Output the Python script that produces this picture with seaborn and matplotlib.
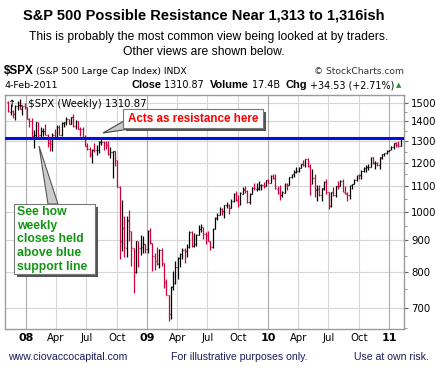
import numpy as np
import pandas as pd
import matplotlib
matplotlib.use("Agg")
import matplotlib.pyplot as plt
import matplotlib.dates as mdates
from matplotlib.patches import Rectangle, Polygon
from matplotlib.ticker import FixedLocator, NullFormatter, FuncFormatter
import seaborn as sns

# Weekly $SPX bars, Nov-2007 .. 4-Feb-2011
first_week = "2007-11-09"
opens = [1508, 1453, 1458, 1440, 1481, 1505, 1468, 1484,
         1475, 1411, 1401, 1325, 1330, 1395, 1331, 1350, 1353, 1330, 1293, 1288, 1330,
         1315, 1370, 1332, 1390, 1397, 1413, 1388, 1425, 1375, 1400, 1360, 1360, 1318,
         1278, 1262, 1239, 1260, 1257, 1260, 1296, 1298, 1292, 1282, 1242, 1251, 1255,
         1213, 1099, 899, 940, 876, 968, 931, 873, 800, 896, 876, 879, 887,
         872, 931, 890, 850, 832, 825, 868, 826, 770, 735, 683, 756, 768,
         815, 842, 856, 869, 866, 877, 929, 882, 887, 919, 940, 946, 921,
         918, 896, 879, 940, 979, 987, 1010, 1004, 1026, 1028, 1016, 1042, 1068,
         1044, 1025, 1071, 1087, 1079, 1036, 1069, 1093, 1091, 1091, 1106, 1106, 1102,
         1126, 1115, 1145, 1136, 1091, 1073, 1066, 1075, 1109, 1104, 1138, 1150, 1159,
         1166, 1178, 1194, 1192, 1217, 1186, 1110, 1135, 1087, 1089, 1064, 1091, 1117,
         1076, 1022, 1078, 1064, 1102, 1101, 1121, 1079, 1071, 1064, 1104, 1109, 1125,
         1148, 1146, 1165, 1176, 1183, 1183, 1225, 1199, 1199, 1189, 1224, 1240, 1243,
         1256, 1257, 1271, 1293, 1283, 1276]
highs = [1510, 1492, 1462, 1488, 1510, 1523, 1485, 1499,
         1475, 1416, 1420, 1355, 1396, 1396, 1370, 1367, 1389, 1336, 1321, 1341, 1359,
         1381, 1380, 1395, 1398, 1422, 1415, 1426, 1440, 1406, 1405, 1371, 1371, 1330,
         1292, 1274, 1263, 1291, 1285, 1302, 1314, 1301, 1304, 1303, 1274, 1256, 1256,
         1215, 1101, 1044, 985, 984, 1007, 932, 873, 896, 896, 918, 914, 887,
         934, 943, 891, 858, 877, 870, 876, 827, 780, 735, 758, 804, 832,
         845, 857, 875, 876, 888, 930, 930, 925, 920, 951, 956, 946, 928,
         931, 898, 943, 980, 996, 1018, 1013, 1027, 1039, 1031, 1048, 1074, 1080,
         1066, 1076, 1096, 1101, 1085, 1072, 1097, 1113, 1112, 1120, 1108, 1117, 1127,
         1130, 1146, 1150, 1150, 1103, 1104, 1081, 1112, 1112, 1139, 1151, 1170, 1180,
         1181, 1195, 1214, 1217, 1220, 1197, 1174, 1150, 1104, 1105, 1092, 1120, 1131,
         1078, 1078, 1099, 1103, 1120, 1128, 1130, 1100, 1077, 1105, 1111, 1131, 1149,
         1150, 1168, 1184, 1189, 1196, 1227, 1226, 1207, 1205, 1225, 1241, 1247, 1258,
         1260, 1278, 1294, 1297, 1302, 1311]
lows = [1453, 1435, 1416, 1406, 1460, 1467, 1435, 1468,
        1411, 1370, 1312, 1270, 1322, 1316, 1320, 1324, 1330, 1272, 1256, 1256, 1312,
        1311, 1331, 1324, 1370, 1380, 1386, 1385, 1373, 1362, 1359, 1328, 1317, 1278,
        1260, 1225, 1200, 1250, 1235, 1247, 1282, 1261, 1263, 1236, 1220, 1133, 1187,
        1097, 839, 866, 845, 845, 899, 818, 741, 796, 815, 851, 857, 857,
        857, 888, 804, 805, 821, 812, 818, 754, 734, 667, 672, 748, 764,
        779, 814, 839, 826, 847, 875, 878, 879, 881, 918, 929, 903, 888,
        896, 869, 875, 940, 971, 987, 990, 978, 1016, 991, 1016, 1039, 1041,
        1019, 1025, 1069, 1074, 1033, 1030, 1069, 1086, 1080, 1085, 1085, 1094, 1100,
        1114, 1115, 1131, 1090, 1071, 1044, 1056, 1075, 1086, 1104, 1135, 1140, 1156,
        1160, 1176, 1186, 1181, 1184, 1065, 1110, 1056, 1041, 1060, 1042, 1087, 1071,
        1010, 1018, 1063, 1056, 1088, 1101, 1076, 1069, 1040, 1048, 1091, 1108, 1122,
        1131, 1131, 1159, 1159, 1171, 1180, 1194, 1173, 1185, 1174, 1218, 1232, 1241,
        1253, 1257, 1262, 1271, 1275, 1276]
closes = [1453.70, 1458.74, 1440.70, 1481.14, 1504.66, 1467.95, 1484.46, 1478.49,
          1411.63, 1401.02, 1325.19, 1330.61, 1395.42, 1331.29, 1349.99, 1353.11, 1330.63,
          1293.37, 1288.14, 1329.51, 1315.22, 1370.40, 1332.83, 1390.33, 1397.84, 1413.90,
          1388.28, 1425.35, 1375.93, 1400.38, 1360.68, 1360.03, 1317.93, 1278.38, 1262.90,
          1239.49, 1260.68, 1257.76, 1260.31, 1296.32, 1298.20, 1292.20, 1282.83, 1242.31,
          1251.70, 1255.08, 1213.27, 1099.23, 899.22, 940.55, 876.77, 968.75, 930.99,
          873.29, 800.03, 896.24, 876.07, 879.73, 887.88, 872.80,
          931.80, 890.35, 850.12, 831.95, 825.88, 868.60, 826.84, 770.05, 735.09, 683.38,
          756.55, 768.54, 815.94, 842.50, 856.56, 869.60, 866.23, 877.52, 929.23, 882.88,
          887.00, 919.14, 940.09, 946.21, 921.23, 918.90, 896.42, 879.13, 940.38, 979.26,
          987.48, 1010.48, 1004.09, 1026.13, 1028.93, 1016.40, 1042.73, 1068.30, 1044.38,
          1025.21, 1071.49, 1087.68, 1079.60, 1036.19, 1069.30, 1093.48, 1091.38, 1091.49,
          1105.98, 1106.41, 1102.47, 1126.48, 1115.10,
          1144.98, 1136.03, 1091.76, 1073.87, 1066.19, 1075.51, 1109.17, 1104.49, 1138.70,
          1149.99, 1159.90, 1166.59, 1178.10, 1194.37, 1192.13, 1217.28, 1186.69, 1110.88,
          1135.68, 1087.69, 1089.41, 1064.88, 1091.60, 1117.51, 1076.76, 1022.58, 1077.96,
          1064.88, 1102.66, 1101.60, 1121.64, 1079.25, 1071.69, 1064.59, 1104.51, 1109.55,
          1125.59, 1148.67, 1146.24, 1165.15, 1176.19, 1183.08, 1183.26, 1225.85, 1199.21,
          1199.73, 1189.40, 1224.71, 1240.40, 1243.91, 1256.77, 1257.64,
          1271.50, 1293.24, 1283.35, 1276.34, 1310.87]
resistance = 1315
y_ticks = [700, 800, 900, 1000, 1100, 1200, 1300, 1400, 1500]

W, H = 436, 377
UP, DOWN = "black", "#d0003c"


def fx(x):
    return x / W


def fy(y):
    return 1 - y / H


def date_label(v, pos):
    d = mdates.num2date(v)
    return d.strftime("%y") if d.month == 1 else d.strftime("%b")


def main():
    sns.set_theme(style="white")
    plt.rcParams["font.family"] = ["DejaVu Sans"]
    plt.rcParams["text.color"] = "black"
    plt.rcParams["xtick.color"] = "black"
    plt.rcParams["ytick.color"] = "black"

    df = pd.DataFrame({"date": pd.date_range(first_week, periods=len(closes), freq="W-FRI"),
                       "open": opens, "high": highs, "low": lows, "close": closes})
    prev = df["close"].shift(1).fillna(df["open"])
    df["color"] = np.where(df["close"] < prev, DOWN, UP)

    fig = plt.figure(figsize=(W / 100, H / 100), dpi=100)
    ax = fig.add_axes([fx(5), fy(329), (404 - 5) / W, (329 - 95) / H])

    ax.set_yscale("log")
    ax.set_ylim(647, 1545)
    ax.set_xlim(pd.Timestamp("2007-10-30"), pd.Timestamp("2011-02-14"))

    # grid
    for v in y_ticks:
        ax.axhline(v, color="#d6d6d6", lw=0.8, zorder=0)
    for d in pd.date_range("2008-01-01", "2011-01-01", freq="QS"):
        ax.axvline(d, color="#aaaaaa" if d.month == 1 else "#d6d6d6", lw=0.8, zorder=0)

    # OHLC bars
    half = pd.Timedelta(days=2.5)
    ax.vlines(df["date"], df["low"], df["high"], colors=df["color"], lw=0.9, zorder=2)
    ax.hlines(df["open"], df["date"] - half, df["date"], colors=df["color"], lw=0.9, zorder=2)
    ax.hlines(df["close"], df["date"], df["date"] + half, colors=df["color"], lw=0.9, zorder=2)

    ax.axhline(resistance, color="#0010e0", lw=2.2, zorder=3)

    # axes styling
    for s in ax.spines.values():
        s.set_color("#9a9a9a")
        s.set_linewidth(1)
    ax.yaxis.tick_right()
    ax.yaxis.set_major_locator(FixedLocator(y_ticks))
    ax.yaxis.set_major_formatter(matplotlib.ticker.FixedFormatter([str(v) for v in y_ticks]))
    ax.yaxis.set_minor_locator(FixedLocator([650, 750, 850, 950, 1050, 1150, 1250, 1350, 1450]))
    ax.yaxis.set_minor_formatter(NullFormatter())
    ax.tick_params(axis="y", which="major", length=3, width=0.8, color="#666666",
                   labelsize=7.3, pad=2, right=True, left=False)
    ax.tick_params(axis="y", which="minor", length=2, width=0.6, color="#888888",
                   right=True, left=False)

    ax.xaxis.set_major_locator(mdates.MonthLocator(bymonth=[1, 4, 7, 10]))
    ax.xaxis.set_major_formatter(FuncFormatter(date_label))
    ax.tick_params(axis="x", length=0, labelsize=7.3, pad=3)
    fig.canvas.draw()
    for lab in ax.get_xticklabels():
        if lab.get_text().isdigit():
            lab.set_fontweight("bold")
            lab.set_fontsize(8)

    ax.text(0.008, 0.985, "\u2191\u2193 $SPX (Weekly) 1310.87", transform=ax.transAxes,
            fontsize=7.3, va="top", ha="left", zorder=5)

    # header
    fig.text(fx(204), fy(15), "S&P 500 Possible Resistance Near 1,313 to 1,316ish",
             ha="center", va="center", fontsize=10.5, fontweight="bold",
             family="Liberation Sans")
    fig.text(fx(209), fy(37), "This is probably the most common view being looked at by traders.",
             ha="center", va="center", fontsize=8.7, family="Liberation Sans")
    fig.text(fx(204), fy(52), "Other views are shown below.",
             ha="center", va="center", fontsize=8.7, family="Liberation Sans")
    fig.text(fx(4), fy(71), "$SPX", ha="left", va="center", fontsize=8.4,
             fontweight="bold", family="Liberation Sans")
    fig.text(fx(36), fy(71), "(S&P 500 Large Cap Index) INDX", ha="left", va="center",
             fontsize=6.7)
    fig.text(fx(404), fy(71), "\u00a9 StockCharts.com", ha="right", va="center",
             fontsize=6.6, color="#333333")
    fig.text(fx(4), fy(85), "4-Feb-2011", ha="left", va="center", fontsize=6.8)
    parts = [("Close", True), (" 1310.87  ", False), ("Volume", True), (" 17.4B  ", False),
             ("Chg", True), (" +34.53 (+2.71%)", False)]
    x0 = fx(131)
    renderer = fig.canvas.get_renderer()
    for txt, bold in parts:
        tt = fig.text(x0, fy(85), txt, ha="left", va="center",
                      fontsize=7.9 if bold else 6.9,
                      fontweight="bold" if bold else "normal",
                      family="Liberation Sans" if bold else "DejaVu Sans")
        bb = tt.get_window_extent(renderer)
        x0 += bb.width / W
    fig.text(x0 + 0.003, fy(85), "\u25b2", ha="left", va="center", fontsize=5, color="#2e8b2e")

    # callout: resistance
    fig.add_artist(Polygon([(fx(124), fy(121)), (fx(136), fy(128)), (fx(103), fy(133))],
                           closed=True, transform=fig.transFigure, fc="#c8c8c8",
                           ec="#444444", lw=0.8, zorder=6))
    fig.add_artist(Rectangle((fx(126), fy(131)), 140 / W, 19 / H, transform=fig.transFigure,
                             fc="#555555", ec="none", zorder=6))
    fig.add_artist(Rectangle((fx(123), fy(128)), 140 / W, 19 / H, transform=fig.transFigure,
                             fc="white", ec="#777777", lw=0.8, zorder=7))
    fig.text(fx(193), fy(118.5), "Acts as resistance here", ha="center", va="center",
             fontsize=8.4, fontweight="bold", color="#ff0000", family="Liberation Sans",
             zorder=8)

    # callout: support
    fig.add_artist(Polygon([(fx(48), fy(204)), (fx(58), fy(204)), (fx(39), fy(146))],
                           closed=True, transform=fig.transFigure, fc="#cccccc",
                           ec="#555555", lw=0.8, zorder=6))
    fig.add_artist(Rectangle((fx(17), fy(277)), 81 / W, 70 / H, transform=fig.transFigure,
                             fc="#555555", ec="none", zorder=6))
    fig.add_artist(Rectangle((fx(14), fy(274)), 81 / W, 70 / H, transform=fig.transFigure,
                             fc="white", ec="#777777", lw=0.8, zorder=7))
    fig.text(fx(17), fy(239.5), "See how\nweekly\ncloses held\nabove blue\nsupport line",
             ha="left", va="center", fontsize=8.8, fontweight="bold", color="#149414",
             family="Liberation Sans", linespacing=1.2, zorder=8)

    # footer
    fig.text(fx(8), fy(357), "www.ciovaccocapital.com", ha="left", va="center",
             fontsize=7.6, color="#1c1c5c", family="Liberation Sans")
    fig.text(fx(171), fy(357), "For illustrative purposes only.", ha="left", va="center",
             fontsize=7.6, color="#1c1c5c", family="Liberation Sans")
    fig.text(fx(429), fy(357), "Use at own risk.", ha="right", va="center",
             fontsize=7.6, color="#1c1c5c", family="Liberation Sans")

    fig.savefig("out.png", dpi=100)


if __name__ == "__main__":
    main()
